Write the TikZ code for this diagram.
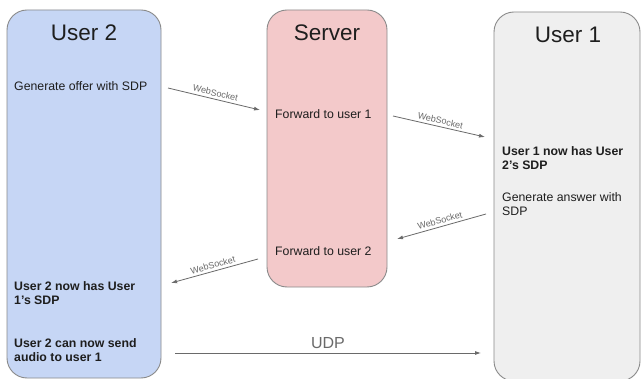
\documentclass[tikz,border=0pt]{standalone}
\usepackage{fontspec}
\setmainfont{Liberation Sans}
\usetikzlibrary{arrows.meta}
\definecolor{bluefill}{HTML}{C6D6F5}
\definecolor{redfill}{HTML}{F3C9CA}
\definecolor{greyfill}{HTML}{EFEFEF}
\definecolor{edge}{HTML}{8A8A8A}
\definecolor{txt}{HTML}{1E1E1E}
\definecolor{arr}{HTML}{6A6A6A}
\tikzset{
  lane/.style={draw=edge, line width=0.9pt, rounded corners=20pt},
  title/.style={font=\fontsize{22.5}{26}\selectfont, text=txt},
  body/.style={font=\fontsize{12.3}{14.8}\selectfont, text=txt, anchor=north west, align=left, inner sep=0pt},
  bbody/.style={body, font=\fontsize{12.3}{14.8}\selectfont\bfseries},
  msg/.style={draw=arr, line width=0.8pt, -{Latex[length=6pt,width=4pt]}},
  wslabel/.style={font=\fontsize{9}{10}\selectfont, text=arr, sloped, above, inner sep=2.5pt},
}
\begin{document}
\begin{tikzpicture}[x=1pt,y=-1pt]
\useasboundingbox (0,0) rectangle (642,379);
\fill[white] (0,0) rectangle (642,379);
% lanes
\draw[lane, fill=bluefill] (7,10) rectangle (161,378);
\draw[lane, fill=redfill] (267,10) rectangle (387,287);
\draw[lane, fill=greyfill] (494,12) rectangle (640,381);
% titles
\node[title] (t2) at (84,33) {User 2};
\node[title] (ts) at (327,33) {Server};
\node[title] (t1) at (568,35) {User 1};
% texts
\node[body] (gen) at (14,81) {Generate offer with SDP};
\node[body] (fw1) at (275,109) {Forward to user 1};
\node[bbody] (has1) at (502,146) {User 1 now has User\\2's SDP};
\node[body] (gena) at (502,192) {Generate answer with\\SDP};
\node[body] (fw2) at (275,246) {Forward to user 2};
\node[bbody] (has2) at (14,281) {User 2 now has User\\1's SDP};
\node[bbody] (send) at (14,338) {User 2 can now send\\audio to user 1};
% arrow endpoints
\coordinate (a1s) at (168,88);
\coordinate (a1e) at (260,110);
\coordinate (a2s) at (393,116);
\coordinate (a2e) at (485,137);
\coordinate (a3s) at (486,214);
\coordinate (a3e) at (397,239);
\coordinate (a4s) at (258,259);
\coordinate (a4e) at (171,283);
\coordinate (us) at (175,353);
\coordinate (ue) at (481,353);
% arrows
\draw[msg] (a1s) -- node[wslabel] {WebSocket} (a1e);
\draw[msg] (a2s) -- node[wslabel] {WebSocket} (a2e);
\draw[msg] (a3s) -- node[wslabel] {WebSocket} (a3e);
\draw[msg] (a4s) -- node[wslabel] {WebSocket} (a4e);
\draw[msg] (us) -- node[above, font=\fontsize{16}{18}\selectfont, text=arr, inner sep=4pt] (udp) {UDP} (ue);
\end{tikzpicture}
\end{document}
